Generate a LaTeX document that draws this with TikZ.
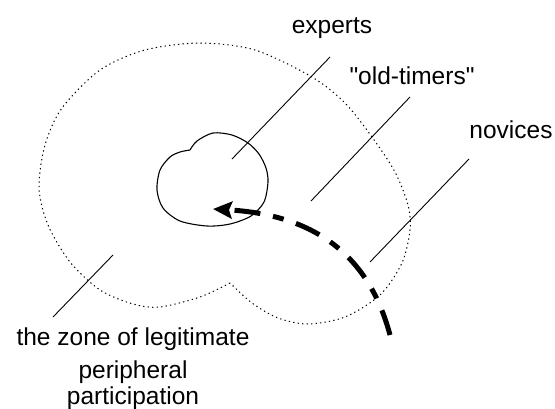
\documentclass[tikz,border=0pt]{standalone}
\usepackage{fontspec}
\setmainfont{Liberation Sans}[Ligatures=TeXOff]
\usetikzlibrary{arrows.meta}
\begin{document}
\begin{tikzpicture}[x=1pt,y=-1pt,
  lbl/.style={font=\fontsize{24.5}{26}\selectfont, inner sep=0pt, anchor=base},
  leader/.style={line width=0.9pt},
  zone/.style={line width=1pt, dash pattern=on 1.3pt off 3.2pt},
  cloudline/.style={line width=1.1pt},
  path/.style={line width=5pt, dash pattern=on 26pt off 13pt on 11pt off 13pt, -{Stealth[length=19pt,width=17pt,inset=3pt]}}]
\useasboundingbox (0,0) rectangle (555,408);

% outer zone (dotted)
\draw[zone] plot[smooth] coordinates {(230,283) (200,297) (160,307) (133,304) (100,290) (70,262) (48,225) (39,188) (45,145) (62,108) (100,70) (145,50) (200,43) (255,50) (312,77) (345,103) (372,137) (395,172) (408,205) (410,230) (402,263) (380,295) (345,317) (308,324) (278,318) (252,303) (230,283)};

% experts cloud
\draw[cloudline] plot[smooth] coordinates {(190,150) (197,141) (213,133) (232,135) (248,143) (259,154) (266,168) (268,182) (264,202) (251,216) (230,224) (207,226) (180,221) (163,208) (157,190) (160,170) (170,157) (180,152) (190,150)};

% labels
\node[lbl] (experts) at (332,33) {experts};
\node[lbl] (old) at (412,84) {"old-timers"};
\node[lbl] (nov) at (511,138) {novices};
\node[lbl, align=center] (zonelbl) at (133,404) {the zone of legitimate\\[7pt]peripheral\\participation};

% leader lines
\coordinate (e1) at (330,57);  \coordinate (e2) at (232,159);
\coordinate (o1) at (410,97);  \coordinate (o2) at (311,201);
\coordinate (n1) at (469,159); \coordinate (n2) at (370,262);
\coordinate (z1) at (113,255); \coordinate (z2) at (53,317);
\draw[leader] (e1) -- (e2);
\draw[leader] (o1) -- (o2);
\draw[leader] (n1) -- (n2);
\draw[leader] (z1) -- (z2);

% trajectory arrow
\coordinate (s) at (390,335);
\coordinate (t) at (213,209);
\draw[path] (s) .. controls (370,260) and (320,215) .. (t);
\end{tikzpicture}
\end{document}
